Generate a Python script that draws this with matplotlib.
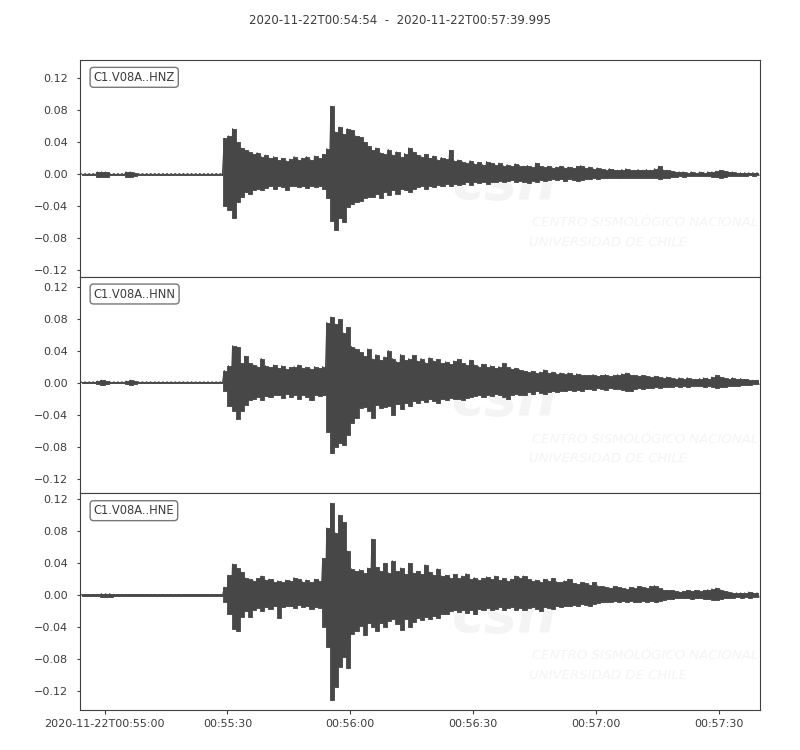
import numpy as np
import matplotlib
matplotlib.use("Agg")
import matplotlib.pyplot as plt
import matplotlib.dates as mdates
from matplotlib.ticker import FuncFormatter, MultipleLocator

start = np.datetime64("2020-11-22T00:54:54.000")
end = np.datetime64("2020-11-22T00:57:39.995")
title = "2020-11-22T00:54:54  -  2020-11-22T00:57:39.995"
channels = ["C1.V08A..HNZ", "C1.V08A..HNN", "C1.V08A..HNE"]

# max / min of each trace per 1-second bin (bin 0 = 00:54:54), units of 1e-3
hnz_hi = ([1, 1, 1, 1, 3, 3, 3, 1, 1, 1, 1, 3, 3, 2, 1, 1, 1, 1, 1, 1, 1, 1, 1, 1, 1, 1, 1, 1, 1, 1, 1, 1, 1, 1, 1]
          + [45, 48, 57, 40, 33, 30, 28, 25, 27, 22, 24, 20, 22, 18, 20, 17, 19, 22, 18, 20, 22, 18, 23, 20, 25]
          + [32, 85, 53, 59, 50, 57, 55, 48, 47, 40, 35]
          + [30, 33, 27, 25, 31, 24, 28, 22, 26, 33, 28, 24]
          + [22, 25, 20, 23, 18, 21, 19, 30, 17, 18]
          + [16, 14, 17, 13, 15, 12, 16, 14, 12, 14, 11, 12, 10, 13, 11]
          + [10, 11, 9, 14, 10, 9, 10, 8, 9, 10, 8, 9, 8, 10, 11, 8, 9, 7, 8, 7]
          + [6, 7, 6, 5, 6, 7, 6, 5, 6, 5, 6, 5, 7, 10, 6, 5]
          + [4, 3, 3, 3, 2, 3, 2, 3, 2, 3, 3, 4, 5, 4, 3, 3, 2, 2, 2, 2, 2, 2])
hnz_lo = ([-1, -1, -1, -1, -3, -3, -3, -1, -1, -1, -1, -3, -3, -2, -1, -1, -1, -1, -1, -1, -1, -1, -1, -1, -1, -1, -1, -1, -1, -1, -1, -1, -1, -1, -1]
          + [-40, -45, -55, -35, -28, -22, -25, -20, -18, -20, -17, -15, -18, -14, -16, -20, -15, -14, -16, -15, -17, -14, -16, -15, -18]
          + [-30, -58, -70, -55, -60, -41, -37, -35, -33, -29, -28]
          + [-28, -25, -30, -22, -26, -20, -24, -18, -20, -22, -18, -16]
          + [-15, -18, -14, -16, -13, -15, -12, -14, -12, -13]
          + [-12, -10, -13, -10, -11, -9, -12, -10, -9, -8, -9, -8, -7, -9, -8]
          + [-9, -11, -8, -9, -7, -8, -7, -6, -7, -6, -8, -6, -7, -8, -7, -6, -6, -5, -6, -5]
          + [-5, -5, -4, -5, -4, -5, -4, -4, -5, -4, -4, -4, -5, -6, -4, -4]
          + [-3, -3, -2, -3, -2, -2, -2, -2, -2, -2, -3, -3, -4, -3, -2, -2, -2, -2, -2, -1, -2, -1])

hnn_hi = ([1, 1, 1, 1, 2, 3, 2, 1, 1, 1, 1, 2, 3, 2, 1, 1, 1, 1, 1, 1, 1, 1, 1, 1, 1, 1, 1, 1, 1, 1, 1, 1, 1, 1, 1]
          + [15, 21, 46, 45, 24, 33, 24, 22, 20, 30, 21, 19, 22, 18, 21, 17, 19, 20, 22, 18, 19, 17, 20, 18, 20]
          + [75, 82, 73, 79, 62, 69, 45, 42, 38, 33, 42, 30, 35, 28, 32, 40, 30, 26, 35]
          + [28, 30, 34, 27, 30, 25, 31, 27, 29, 24, 26, 23, 27, 29, 24, 22, 28]
          + [22, 20, 23, 19, 21, 18, 20, 24, 19, 17, 18, 16]
          + [15, 13, 14, 12, 13, 16, 12, 13, 11, 12, 11, 12, 10, 11, 10, 9]
          + [9, 10, 8, 9, 10, 8, 9, 10, 11, 12, 10, 9, 8, 9, 8, 7, 8, 7, 6, 7]
          + [6, 5, 6, 5, 6, 5, 4, 5, 6, 5, 7, 9, 7, 6, 5, 6, 4, 5, 4, 3, 3, 3])
hnn_lo = ([-1, -1, -1, -1, -2, -3, -2, -1, -1, -1, -1, -2, -3, -2, -1, -1, -1, -1, -1, -1, -1, -1, -1, -1, -1, -1, -1, -1, -1, -1, -1, -1, -1, -1, -1]
          + [-10, -29, -35, -45, -35, -28, -22, -20, -18, -22, -17, -18, -15, -16, -19, -14, -18, -15, -21, -16, -18, -22, -15, -17, -16]
          + [-62, -88, -80, -76, -78, -65, -50, -44, -32, -30, -35, -44, -28, -32, -30, -29, -40, -27, -33]
          + [-26, -29, -23, -25, -22, -24, -21, -23, -26, -20, -22, -19, -21, -20, -22, -19, -18]
          + [-17, -16, -18, -15, -17, -14, -16, -18, -21, -15, -14, -15]
          + [-16, -12, -14, -11, -13, -14, -12, -11, -12, -10, -11, -9, -10, -9, -10, -8]
          + [-8, -9, -7, -8, -9, -7, -8, -8, -9, -10, -11, -8, -7, -8, -7, -7, -6, -7, -6, -5]
          + [-5, -4, -5, -4, -5, -4, -4, -4, -5, -4, -5, -7, -6, -5, -4, -4, -4, -3, -3, -3, -2, -2])

hne_hi = ([1, 1, 1, 1, 1, 2, 2, 2, 1, 1, 1, 1, 1, 1, 1, 1, 1, 1, 1, 1, 1, 1, 1, 1, 1, 1, 1, 1, 1, 1, 1, 1, 1, 1, 1]
          + [10, 25, 39, 34, 29, 22, 20, 18, 21, 24, 19, 20, 17, 18, 16, 19, 18, 22, 20, 17, 19, 16, 20, 18]
          + [46, 84, 115, 78, 100, 91, 55, 33, 30, 32, 28, 34, 70, 35, 30, 40, 28, 43, 30, 34, 27, 40, 28, 30, 26, 38, 29, 25, 33, 24]
          + [25, 22, 26, 21, 24, 27, 20, 22, 19, 21, 23, 20, 24, 19, 21, 18, 20, 24, 22]
          + [24, 20, 18, 19, 17, 20, 18, 21, 17, 16, 18, 20, 15, 14, 16, 15, 13, 16]
          + [12, 11, 10, 9, 11, 10, 9, 8, 10, 9, 11, 10, 9, 11, 12, 9, 7, 6, 6]
          + [5, 4, 5, 6, 5, 6, 5, 6, 7, 8, 9, 7, 5, 4, 3, 3, 3, 3, 4, 3, 3])
hne_lo = ([-1, -1, -1, -1, -1, -2, -2, -2, -1, -1, -1, -1, -1, -1, -1, -1, -1, -1, -1, -1, -1, -1, -1, -1, -1, -1, -1, -1, -1, -1, -1, -1, -1, -1, -1]
          + [-8, -23, -42, -45, -27, -20, -27, -18, -16, -20, -15, -17, -14, -28, -15, -13, -14, -16, -12, -15, -14, -17, -15, -16]
          + [-39, -64, -131, -114, -89, -77, -91, -48, -45, -38, -50, -35, -40, -45, -35, -40, -32, -30, -36, -43, -30, -40, -33, -28, -31, -27, -30, -26, -28, -24]
          + [-23, -20, -18, -21, -19, -22, -18, -24, -17, -19, -16, -18, -17, -15, -19, -16, -15, -18, -16]
          + [-18, -16, -15, -17, -20, -15, -16, -17, -14, -15, -13, -14, -12, -13, -11, -12, -14, -11]
          + [-10, -9, -8, -8, -7, -9, -7, -8, -7, -9, -8, -7, -8, -7, -9, -7, -6, -5, -5]
          + [-4, -3, -4, -4, -5, -4, -4, -5, -5, -6, -6, -5, -4, -3, -3, -2, -3, -2, -3, -2, -2])

traces = [(hnz_hi, hnz_lo), (hnn_hi, hnn_lo), (hne_hi, hne_lo)]

trace_color = "#474747"
text_color = "#3c3c3c"
wm_color = "#f4f4f4"

fig, axes = plt.subplots(3, 1, figsize=(8, 7.5), dpi=100, sharex=True)
fig.subplots_adjust(left=0.1, right=0.95, top=0.92, bottom=0.0533, hspace=0)

# same scale on every panel, centred on each trace
half = max(max(hi) - min(lo) for hi, lo in traces) / 2 * 1.1 / 1000


def to_time(sec):
    return start + np.round(np.asarray(sec) * 1000).astype(int).astype("timedelta64[ms]")


for ax, name, (hi, lo) in zip(axes, channels, traces):
    hi = np.array(hi) / 1000
    lo = np.array(lo) / 1000
    sec = np.arange(len(hi))

    # min/max band per bin, plus a zigzag through the extremes for texture
    ax.fill_between(to_time(sec + 0.5), lo, hi, step="mid", color=trace_color,
                    lw=0.6, edgecolor=trace_color, zorder=2)
    t = np.column_stack([sec + 0.25, sec + 0.75]).ravel()
    y = np.column_stack([hi, lo]).ravel()
    ax.plot(to_time(t), y, color=trace_color, lw=0.8, zorder=2)

    mid = (hi.max() + lo.min()) / 2
    ax.set_ylim(mid - half, mid + half)
    ax.yaxis.set_major_locator(MultipleLocator(0.04))

    # faint CSN watermark
    ax.text(0.625, 0.43, "csn", transform=ax.transAxes, fontsize=40, fontweight="bold",
            style="italic", color=wm_color, ha="center", va="center", zorder=0)
    ax.text(0.665, 0.25, "CENTRO SISMOLÓGICO NACIONAL", transform=ax.transAxes, fontsize=9.5,
            style="italic", color=wm_color, ha="left", va="center", zorder=0)
    ax.text(0.66, 0.16, "UNIVERSIDAD DE CHILE", transform=ax.transAxes, fontsize=9.5,
            style="italic", color=wm_color, ha="left", va="center", zorder=0)

    ax.text(0.02, 0.95, name, transform=ax.transAxes, va="top", ha="left", fontsize=8.3,
            color=text_color, zorder=5,
            bbox=dict(boxstyle="round", fc="white", ec="#555555", alpha=0.8))

    for s in ax.spines.values():
        s.set_color("#404040")
    ax.tick_params(axis="y", labelsize=8, length=2.5, pad=6, color="#404040", labelcolor=text_color)
    ax.tick_params(axis="x", bottom=False, labelbottom=False)

ax = axes[-1]
ax.set_xlim(start, end)
ax.xaxis.set_major_locator(mdates.SecondLocator(bysecond=[0, 30]))


def time_label(x, pos=None):
    d = mdates.num2date(x)
    s = d.strftime("%H:%M:%S")
    if x - ax.get_xlim()[0] < 30 / 86400:
        s = d.strftime("%Y-%m-%dT") + s
    return s


ax.xaxis.set_major_formatter(FuncFormatter(time_label))
ax.tick_params(axis="x", bottom=True, labelbottom=True, labelsize=8, length=2.7,
               color="#404040", labelcolor=text_color)

fig.text(0.5, 0.973, title, ha="center", va="center", fontsize=8.5, color=text_color)

fig.savefig("out.png", dpi=100)
